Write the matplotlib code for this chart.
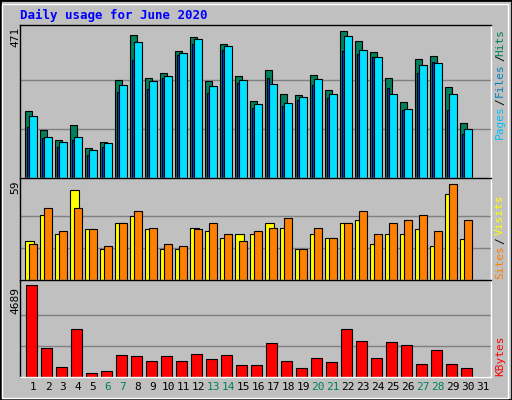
import matplotlib
matplotlib.use("Agg")
import matplotlib.pyplot as plt
from matplotlib.patches import Rectangle

days = list(range(1, 32))
hits = [215,154,122,170,96,115,314,458,320,336,407,452,311,429,327,247,346,269,266,330,282,471,439,404,320,243,381,391,292,176,0]
files = [199,131,115,131,90,112,298,436,311,327,400,445,295,423,314,237,301,240,260,317,269,455,410,388,269,221,362,368,269,157,0]
pages = [163,128,99,122,74,99,276,378,285,320,394,429,272,410,304,224,320,231,250,298,256,407,397,388,288,218,336,372,218,141,0]
sites = [24,40,28,55,31,19,35,39,31,19,19,32,30,26,28,28,35,32,19,28,26,35,37,22,28,28,31,21,53,25,0]
visits = [22,44,30,44,31,21,35,42,32,22,21,31,35,28,24,30,32,38,19,32,26,35,42,28,35,37,40,30,59,37,0]
kbytes = [4689,1454,530,2430,222,325,1095,1044,787,1044,787,1146,890,1095,633,633,1711,787,479,941,736,2430,1814,941,1762,1608,684,1352,684,479,0]
weekend = [6,7,13,14,20,21,27,28]
max_hits, max_visits, max_kb = 471, 59, 4689

W, H = 512, 400
fig = plt.figure(figsize=(W/100, H/100), dpi=100)
fig.patch.set_facecolor("#c0c0c0")
mono = "DejaVu Sans Mono"

def ax_px(x0, y0, x1, y1):
    return fig.add_axes([x0/W, 1-y1/H, (x1-x0)/W, (y1-y0)/H])

# outer frame
fig.add_artist(Rectangle((0, 0), 1, 1, transform=fig.transFigure, fill=False, lw=2, ec="black"))
fig.add_artist(Rectangle((2/W, 2/H), (W-6)/W, (H-6)/H, transform=fig.transFigure, fill=False, lw=1, ec="white"))

xl = (0.133, 31.53)
def setup(ax, top, grid):
    ax.set_facecolor("#c0c0c0")
    ax.set_xlim(*xl); ax.set_ylim(0, top)
    ax.set_xticks([]); ax.set_yticks([])
    for g in grid:
        ax.axhline(g, color="#808080", lw=1, zorder=0)
    for s in ax.spines.values():
        s.set_color("black"); s.set_linewidth(1)
    ax.spines["right"].set_color("white"); ax.spines["bottom"].set_color("white")

ec = dict(edgecolor="black", linewidth=0.8, align="edge")
a1 = ax_px(20, 25, 491, 178)
setup(a1, max_hits*1.04, [max_hits/3, max_hits*2/3])
d = [x for x in days]
a1.bar([x-0.53 for x in d], hits, width=0.46, color="#00805c", **ec)
a1.bar([x-0.4 for x in d], pages, width=0.13, color="#0040ff", **ec)
a1.bar([x-0.27 for x in d], files, width=0.54, color="#00e0ff", **ec)

a2 = ax_px(20, 178, 491, 280)
setup(a2, max_visits*1.06, [max_visits/3, max_visits*2/3])
a2.bar([x-0.53 for x in d], sites, width=0.6, color="#ffff00", **ec)
a2.bar([x-0.27 for x in d], visits, width=0.54, color="#ff8000", **ec)

a3 = ax_px(20, 280, 491, 377)
setup(a3, max_kb*1.05, [max_kb/3, max_kb*2/3])
a3.bar([x-0.47 for x in d], kbytes, width=0.74, color="#ff0000", **ec)

for day in days:
    a3.text(day, -0.05, str(day), transform=a3.get_xaxis_transform(), ha="center", va="top",
            fontsize=8, family=mono, color="#00805c" if day in weekend else "black")

fig.text(20/W, 1-15/H, "Daily usage for June 2020", color="#0000ff", fontsize=9,
         family=mono, weight="bold", va="center", ha="left")
fig.text(15/W, 1-37/H, str(max_hits), rotation=90, fontsize=8, family=mono, ha="center", va="center")
fig.text(15/W, 1-187/H, str(max_visits), rotation=90, fontsize=8, family=mono, ha="center", va="center")
fig.text(15/W, 1-300/H, str(max_kb), rotation=90, fontsize=8, family=mono, ha="center", va="center")

def rlab(y, s, c):
    fig.text(500/W, 1-y/H, s, rotation=90, fontsize=8, family=mono, ha="center", va="center", color=c)
rlab(122, "Pages", "#00c0ff"); rlab(102, "/", "black"); rlab(80, "Files", "#0080c0")
rlab(58, "/", "black"); rlab(42, "Hits", "#00805c")
rlab(262, "Sites", "#ff8000"); rlab(241, "/", "black"); rlab(215, "Visits", "#ffff00")
rlab(356, "KBytes", "#ff0000")

fig.savefig("out.png", dpi=100, facecolor=fig.get_facecolor())
